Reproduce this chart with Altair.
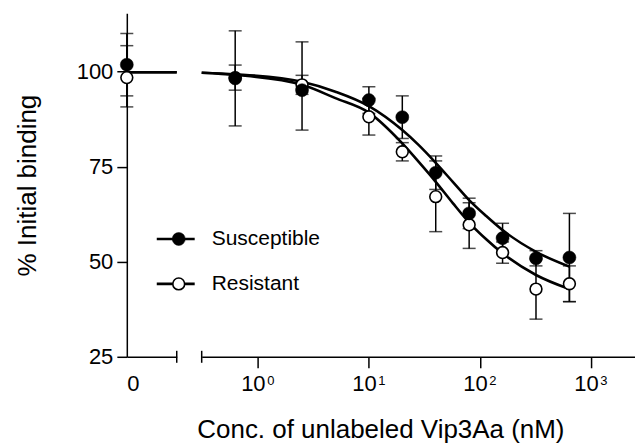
import altair as alt
import pandas as pd

FONT = "Liberation Sans"
series = ["Susceptible", "Resistant"]

# concentrations (nM) on the log panel
conc = [0.625, 2.5, 10, 20, 40, 80, 160, 320, 640]
sus_mean = [98.2, 95.1, 92.5, 88.0, 73.4, 62.7, 56.2, 50.9, 51.1]
sus_lo = [85.7, 84.6, 89.0, 82.4, 69.0, 58.7, 52.3, 48.9, 39.5]
sus_hi = [110.7, 107.8, 96.0, 93.6, 77.8, 66.7, 60.1, 52.9, 62.7]
res_mean = [98.4, 96.5, 88.1, 78.9, 67.1, 59.7, 52.4, 42.8, 44.2]
res_lo = [95.1, 94.0, 83.3, 76.5, 57.9, 53.5, 49.6, 34.9, 39.5]
res_hi = [101.7, 99.0, 92.9, 81.3, 76.5, 65.5, 55.2, 50.7, 48.9]

# zero-concentration controls (susceptible, resistant)
zero_mean = [101.8, 98.4]
zero_lo = [93.6, 90.7]
zero_hi = [110.0, 106.8]

# fitted curves
curve_conc = [0.312, 0.63, 2.5, 5, 10, 20, 28, 40, 57, 80, 114, 160, 320, 640]
curve_sus = [99.7, 99.3, 97.3, 94.7, 90.9, 84.6, 80.7, 76.0, 71.0, 66.2, 62.0, 58.3, 52.6, 48.7]
curve_res = [99.7, 99.1, 96.5, 93.0, 89.2, 81.1, 76.3, 71.0, 65.4, 60.3, 55.9, 52.2, 46.5, 42.8]
plateau = [99.8, 99.8]

y_ticks = [25, 50, 75, 100]
x_ticks = [1, 10, 100, 1000]
x_tick_base = "10"
x_tick_exps = ["0", "1", "2", "3"]

# ---- tables ----
rows = []
for s, m, lo, hi in [("Susceptible", sus_mean, sus_lo, sus_hi), ("Resistant", res_mean, res_lo, res_hi)]:
    for c, a, b, d in zip(conc, m, lo, hi):
        rows.append({"x": c, "y": a, "lo": b, "hi": d, "series": s})
pts = pd.DataFrame(rows)
zero = pd.DataFrame({"x": [0, 0], "y": zero_mean, "lo": zero_lo, "hi": zero_hi, "series": series})
crv = pd.DataFrame(
    [{"x": c, "y": v, "series": "Susceptible"} for c, v in zip(curve_conc, curve_sus)]
    + [{"x": c, "y": v, "series": "Resistant"} for c, v in zip(curve_conc, curve_res)]
)
plat = pd.DataFrame(
    [{"x": xx, "y": plateau[i], "series": s} for i, s in enumerate(series) for xx in (0, 1)]
)
sup = pd.DataFrame({"x": x_ticks, "e": x_tick_exps})

W_L, W_R, H = 50, 434, 344
ys = alt.Scale(domain=[25, 115.3], nice=False, zero=False)
xsL = alt.Scale(domain=[0, 1], nice=False, zero=False)
xsR = alt.Scale(type="log", domain=[0.312, 2494], nice=False)

yax = alt.Axis(values=y_ticks, title="% Initial binding", tickSize=10, labelPadding=4,
               labelFontSize=22, titleFontSize=26, titleX=-91, titleY=H / 2,
               titleAngle=270, titleAlign="center", titleBaseline="alphabetic")
axL = alt.Axis(values=[0], labelExpr="'0'", tickSize=11, tickOpacity=0, labelPadding=6,
               labelFontSize=22)
axR = alt.Axis(values=x_ticks, labelExpr=f"'{x_tick_base}'", labelOffset=-5, tickSize=11,
               labelPadding=6, labelFontSize=22, title="Conc. of unlabeled Vip3Aa (nM)",
               titleFontSize=26, titleX=179, titleY=81, titleAlign="center",
               titleBaseline="alphabetic")


def panel(curve_df, pt_df, xscale, xaxis, yaxis):
    X = lambda: alt.X("x:Q", scale=xscale, axis=xaxis, title=None)
    Y = lambda f="y": alt.Y(f"{f}:Q", scale=ys, axis=yaxis, title=None)
    line = alt.Chart(curve_df).mark_line(color="black", strokeWidth=2.6, interpolate="monotone").encode(
        x=X(), y=Y(), detail="series:N")
    base = alt.Chart(pt_df)
    bars = base.mark_rule(color="black", strokeWidth=1.5).encode(x=X(), y=Y("lo"), y2="hi:Q")
    cap_lo = base.mark_tick(color="black", size=13, thickness=1.5, orient="horizontal").encode(x=X(), y=Y("lo"))
    cap_hi = base.mark_tick(color="black", size=13, thickness=1.5, orient="horizontal").encode(x=X(), y=Y("hi"))
    open_pts = base.transform_filter(alt.datum.series == "Resistant").mark_point(
        shape="circle", filled=True, fill="white", stroke="black", strokeWidth=1.6, size=140, opacity=1
    ).encode(x=X(), y=Y())
    fill_pts = base.transform_filter(alt.datum.series == "Susceptible").mark_point(
        shape="circle", filled=True, fill="black", stroke="black", strokeWidth=0.5, size=170, opacity=1
    ).encode(x=X(), y=Y())
    return [line, bars, cap_lo, cap_hi, open_pts, fill_pts]


one = pd.DataFrame({"a": [0]})
capL = alt.Chart(one).mark_rule(color="black", strokeWidth=1.5).encode(
    x=alt.value(W_L), y=alt.value(H - 6), y2=alt.value(H + 6))
capR = alt.Chart(one).mark_rule(color="black", strokeWidth=1.5).encode(
    x=alt.value(0), y=alt.value(H - 6), y2=alt.value(H + 6))

left = alt.layer(*panel(plat, zero, xsL, axL, yax), capL).properties(width=W_L, height=H)

# superscript exponents of the log-axis labels
sup_layer = alt.Chart(sup).mark_text(align="center", baseline="top", font=FONT, fontSize=13,
                                     color="black", dx=13).encode(
    x=alt.X("x:Q", scale=xsR, axis=axR, title=None), y=alt.value(H + 18), text="e:N")

legend_layers = []
legend_y = [226, 271]
for i, s in enumerate(series):
    ld = pd.DataFrame({"series": [s]})
    legend_layers.append(alt.Chart(ld).mark_rule(color="black", strokeWidth=2.6).encode(
        x=alt.value(-45), x2=alt.value(-7), y=alt.value(legend_y[i])))
    if s == "Resistant":
        pm = alt.Chart(ld).mark_point(shape="circle", filled=True, fill="white", stroke="black",
                                      strokeWidth=1.6, size=140, opacity=1)
    else:
        pm = alt.Chart(ld).mark_point(shape="circle", filled=True, fill="black", stroke="black",
                                      strokeWidth=0.5, size=170, opacity=1)
    legend_layers.append(pm.encode(x=alt.value(-23), y=alt.value(legend_y[i])))
    legend_layers.append(alt.Chart(ld).mark_text(align="left", baseline="middle", font=FONT,
                                                 fontSize=21, color="black").encode(
        x=alt.value(10), y=alt.value(legend_y[i]), text="series:N"))

right = alt.layer(*panel(crv, pts, xsR, axR, None), sup_layer, capR, *legend_layers).properties(
    width=W_R, height=H)

chart = alt.hconcat(left, right, spacing=25, bounds="flush").properties(
    padding={"left": 7, "top": 5, "right": 0, "bottom": 0}
).configure_view(stroke=None).configure_axis(
    domainColor="black", tickColor="black", labelColor="black", titleColor="black",
    domainWidth=1.5, tickWidth=1.5, labelFont=FONT, titleFont=FONT, grid=False,
    titleFontWeight="normal"
)

chart.save("out.html", embed_options={"renderer": "svg", "actions": False})
